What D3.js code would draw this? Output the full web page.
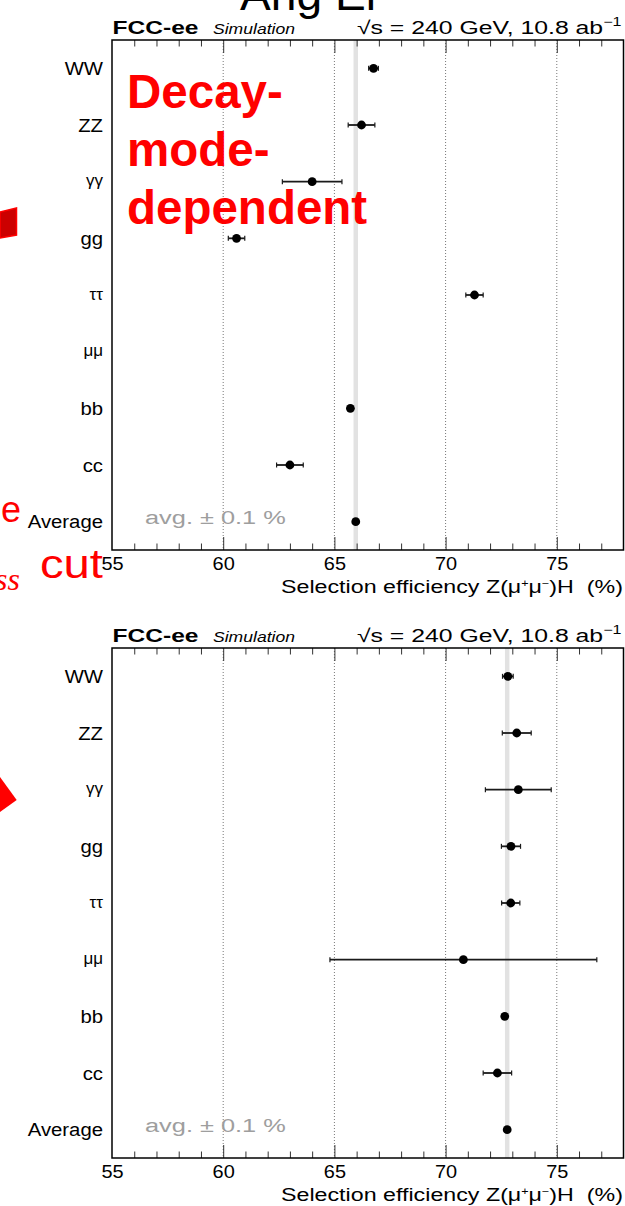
<!DOCTYPE html>
<html>
<head>
<meta charset="utf-8">
<script src="https://cdn.jsdelivr.net/npm/d3@7"></script>
<style>
  html, body { margin: 0; padding: 0; background: #fff; }
  svg { display: block; font-family: "Liberation Sans", Arial, Helvetica, sans-serif; }
</style>
</head>
<body>
<svg id="chart" width="625" height="1206"></svg>
<script>
// Higgs decay modes plus the average row
const categories = ["WW", "ZZ", "γγ", "gg", "ττ", "μμ", "bb", "cc", "Average"];
const greekLabels = ["γγ", "ττ", "μμ"];

// Selection efficiency (%) with the decay-mode-dependent selection
const effDependent = [66.76, 66.22, 64.0, 60.6, 71.3, null, 65.72, 63.0, 65.96];
const errDependent = [0.22, 0.6, 1.34, 0.37, 0.39, null, 0.08, 0.6, 0.05];

// Selection efficiency (%) after the updated selection
const effIndependent = [72.8, 73.2, 73.27, 72.94, 72.93, 70.8, 72.66, 72.33, 72.77];
const errIndependent = [0.24, 0.65, 1.48, 0.43, 0.41, 6.0, 0.08, 0.64, 0.05];

const xTickLabels = [55, 60, 65, 70, 75];
const gridValues = [60, 65, 70, 75];
const xDomain = [55, 78];
const avgHalfWidth = 0.1;

const svg = d3.select("#chart");

const x = d3.scaleLinear().domain(xDomain).range([112, 623.5]);
const plotH = 510;
const y = d3.scaleBand().domain(categories).range([0, plotH]);
const yc = c => y(c) + y.bandwidth() / 2;

// place a text at (tx,ty) and stretch it horizontally to a given width
function fitText(sel, tx, ty, width) {
  const bw = sel.node().getBBox().width;
  sel.attr("transform", `translate(${tx},${ty}) scale(${width / bw},1)`);
  return sel;
}

function drawPanel(top, eff, err) {
  const g = svg.append("g").attr("transform", `translate(0,${top})`);
  const avg = eff[eff.length - 1];

  // average +- 0.1 % band
  g.append("rect")
    .attr("x", x(avg - avgHalfWidth))
    .attr("y", 0)
    .attr("width", x(avg + avgHalfWidth) - x(avg - avgHalfWidth))
    .attr("height", plotH)
    .attr("fill", "#e2e2e2");

  // dotted vertical grid
  g.selectAll(".grid").data(gridValues).join("line")
    .attr("x1", d => x(d)).attr("x2", d => x(d))
    .attr("y1", 0).attr("y2", plotH)
    .attr("stroke", "#777").attr("stroke-width", 1)
    .attr("stroke-dasharray", "1,2");

  // ticks, minor and major, on bottom and top edges
  const minor = d3.range(56, 78).filter(v => v % 5 !== 0);
  const mk = (axisFn, vals, size, ty) => {
    const a = g.append("g").attr("transform", `translate(0,${ty})`)
      .call(axisFn(x).tickValues(vals).tickSize(size).tickSizeOuter(0).tickFormat(""));
    a.select(".domain").remove();
    a.selectAll("line").attr("stroke", "#333").attr("stroke-width", 1);
  };
  mk(d3.axisBottom, minor, -6.5, plotH);
  mk(d3.axisBottom, gridValues, -13, plotH);
  mk(d3.axisTop, minor, -6.5, 0);
  mk(d3.axisTop, gridValues, -13, 0);

  // tick labels
  const lab = g.append("g").attr("transform", `translate(0,${plotH})`)
    .call(d3.axisBottom(x).tickValues(xTickLabels).tickSize(0).tickPadding(7.5));
  lab.select(".domain").remove();
  lab.selectAll("text")
    .attr("font-family", '"Liberation Sans", Arial, sans-serif')
    .attr("font-size", 17.5).attr("fill", "#000")
    .attr("transform", "scale(1.14,1)");

  // frame
  g.append("rect").attr("x", x(xDomain[0])).attr("y", 0)
    .attr("width", x(xDomain[1]) - x(xDomain[0])).attr("height", plotH)
    .attr("fill", "none").attr("stroke", "#000").attr("stroke-width", 1.5);

  // error bars and points
  const rows = categories.map((c, i) => ({ c, v: eff[i], e: err[i] })).filter(d => d.v !== null);
  g.selectAll(".bar").data(rows).join("line")
    .attr("x1", d => x(d.v - d.e)).attr("x2", d => x(d.v + d.e))
    .attr("y1", d => yc(d.c)).attr("y2", d => yc(d.c))
    .attr("stroke", "#1a1a1a").attr("stroke-width", 1.8);
  ["lo", "hi"].forEach(side => {
    g.selectAll(".cap" + side).data(rows).join("line")
      .attr("x1", d => x(side === "lo" ? d.v - d.e : d.v + d.e))
      .attr("x2", d => x(side === "lo" ? d.v - d.e : d.v + d.e))
      .attr("y1", d => yc(d.c) - 2.5).attr("y2", d => yc(d.c) + 2.5)
      .attr("stroke", "#1a1a1a").attr("stroke-width", 1.2);
  });
  g.selectAll(".pt").data(rows).join("circle")
    .attr("cx", d => x(d.v)).attr("cy", d => yc(d.c)).attr("r", 4.4)
    .attr("fill", "#000");

  // category labels
  categories.forEach(c => {
    const greek = greekLabels.includes(c);
    g.append("text")
      .attr("text-anchor", "end")
      .attr("font-size", greek ? 17 : 19)
      .attr("transform", `translate(103,${yc(c) + (greek ? 4.5 : 6.5)}) scale(${greek ? 1.0 : 1.07},1)`)
      .text(c);
  });

  // average annotation
  const avgText = g.append("text").attr("font-size", 19).attr("fill", "#9e9e9e")
    .text("avg. ± 0.1 %");
  fitText(avgText, 145, yc("Average") + 2.5, 141);

  // header
  const fcc = g.append("text").attr("font-size", 18.5).attr("font-weight", "bold").text("FCC-ee");
  fitText(fcc, 112.5, -6, 86);
  const sim = g.append("text").attr("font-size", 15).attr("font-style", "italic").text("Simulation");
  fitText(sim, 213, -6, 82);
  const rs = g.append("text").attr("font-size", 18.5);
  rs.append("tspan").text("√s = 240 GeV, 10.8 ab");
  rs.append("tspan").attr("font-size", 12).attr("dy", -8).text("−1");
  fitText(rs, 357, -6, 265);

  // axis title
  const t = g.append("text").attr("font-size", 18.5);
  t.append("tspan").text("Selection efficiency Z(μ");
  t.append("tspan").attr("font-size", 10).attr("dy", -6).text("+");
  t.append("tspan").attr("dy", 6).text("μ");
  t.append("tspan").attr("font-size", 10).attr("dy", -6).text("−");
  t.append("tspan").attr("dy", 6).text(")H\u00a0\u00a0(%)");
  fitText(t, 281, plotH + 43, 342);
}

drawPanel(40, effDependent, errDependent);
drawPanel(648, effIndependent, errIndependent);

// slide overlays
const title = svg.append("text").attr("font-size", 44).attr("fill", "#000").text("Ang El");
fitText(title, 240, 10, 136);

const red = "#ff0000";
["Decay-", "mode-", "dependent"].forEach((s, i) => {
  svg.append("text").attr("x", 127).attr("y", 108 + i * 58)
    .attr("font-size", 47.5).attr("font-weight", "bold").attr("fill", red).text(s);
});
svg.append("text").attr("x", 21).attr("y", 522).attr("text-anchor", "end")
  .attr("font-size", 36).attr("fill", red).text("e");
const cut = svg.append("text").attr("font-size", 40).attr("fill", red).text("cut");
fitText(cut, 40, 578, 63);
svg.append("text").attr("x", 20).attr("y", 590).attr("text-anchor", "end")
  .attr("font-family", '"Liberation Serif", serif').attr("font-style", "italic")
  .attr("font-size", 32).attr("fill", red).text("ss");

svg.append("polygon")
  .attr("points", "0,212 16.5,208 16.5,235 0,238")
  .attr("fill", "#cc0000").attr("stroke", red).attr("stroke-width", 1.5);
svg.append("polygon")
  .attr("points", "0,777 16.7,800 0,812")
  .attr("fill", red);
</script>
</body>
</html>
